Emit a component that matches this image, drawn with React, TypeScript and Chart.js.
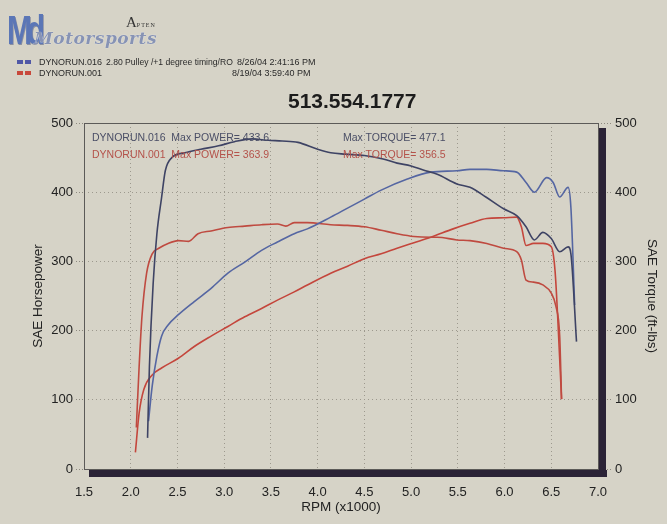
import React, { useEffect, useRef } from "react";
import Chart from "chart.js/auto";

// DYNORUN.016 (blue) — torque and horsepower
const rpmTorque016 = [2.18, 2.2, 2.24, 2.28, 2.33, 2.37, 2.44, 2.58, 2.75, 2.94, 3.11, 3.3, 3.47, 3.62, 3.79, 4.0, 4.14, 4.3, 4.5, 4.7, 4.85, 5.0, 5.13, 5.28, 5.49, 5.63, 5.8, 5.99, 6.13, 6.23, 6.32, 6.41, 6.5, 6.59, 6.68, 6.71, 6.77];
const torque016 = [45, 148, 268, 340, 392, 431, 450, 457, 462, 467, 473, 477, 475, 474, 472, 462, 457, 455, 453, 448, 442, 438, 432, 426, 412, 407, 393, 376, 366, 350, 331, 342, 333, 314, 321, 311, 184];
const rpmPower016 = [2.19, 2.23, 2.28, 2.33, 2.4, 2.51, 2.68, 2.86, 3.04, 3.22, 3.4, 3.57, 3.75, 3.89, 4.14, 4.32, 4.5, 4.68, 4.96, 5.21, 5.49, 5.63, 5.81, 5.99, 6.13, 6.23, 6.32, 6.45, 6.52, 6.59, 6.68, 6.71, 6.75];
const power016 = [69, 120, 163, 192, 208, 223, 242, 261, 283, 299, 316, 328, 340, 347, 364, 377, 390, 403, 419, 429, 431, 433, 433, 431, 429, 414, 400, 421, 414, 393, 407, 378, 237];

// DYNORUN.001 (red) — torque and horsepower
const rpmTorque001 = [2.06, 2.09, 2.12, 2.17, 2.23, 2.3, 2.4, 2.51, 2.62, 2.72, 2.86, 3.04, 3.22, 3.4, 3.57, 3.66, 3.75, 3.89, 4.14, 4.32, 4.5, 4.68, 4.85, 5.03, 5.21, 5.28, 5.49, 5.63, 5.81, 5.99, 6.13, 6.18, 6.23, 6.31, 6.41, 6.5, 6.55, 6.59, 6.61];
const torque001 = [60, 148, 220, 283, 311, 319, 326, 330, 329, 340, 344, 349, 351, 353, 354, 351, 356, 356, 353, 352, 350, 345, 340, 336, 335, 335, 331, 330, 326, 319, 314, 302, 273, 270, 266, 254, 235, 192, 101];
const rpmPower001 = [2.05, 2.09, 2.14, 2.23, 2.33, 2.51, 2.68, 2.86, 3.04, 3.22, 3.4, 3.57, 3.75, 3.89, 4.14, 4.32, 4.5, 4.68, 4.85, 5.03, 5.21, 5.45, 5.63, 5.81, 5.99, 6.13, 6.18, 6.23, 6.31, 6.41, 6.5, 6.54, 6.57, 6.61];
const power001 = [24, 81, 115, 136, 146, 160, 177, 192, 206, 220, 232, 244, 256, 266, 283, 293, 304, 311, 319, 327, 335, 347, 355, 362, 363, 364, 350, 323, 326, 326, 321, 287, 216, 101];

const BG = "#d6d3c7";
const FONT = "'Liberation Sans', Arial, sans-serif";

const pairs = (xs: number[], ys: number[]) => xs.map((x, i) => ({ x, y: ys[i] }));

const framePlugin = {
  id: "frame",
  afterDraw(chart: any) {
    const { ctx, chartArea: a } = chart;
    ctx.save();
    ctx.fillStyle = "#2b2336";
    ctx.fillRect(a.right + 1, a.top + 5, 7, a.bottom - a.top + 3);
    ctx.fillRect(a.left + 5, a.bottom + 1, a.right - a.left + 4, 7);
    ctx.strokeStyle = "#5c5a58";
    ctx.lineWidth = 1;
    ctx.strokeRect(a.left + 0.5, a.top + 0.5, a.right - a.left, a.bottom - a.top);
    ctx.restore();
  },
};

const App: React.FC = () => {
  const canvasRef = useRef<HTMLCanvasElement | null>(null);

  useEffect(() => {
    const canvas = canvasRef.current;
    if (!canvas) return;
    const line = (data: { x: number; y: number }[], color: string, axis: string) => ({
      data,
      yAxisID: axis,
      borderColor: color,
      borderWidth: 1.6,
      pointRadius: 0,
      fill: false,
      cubicInterpolationMode: "monotone" as const,
    });
    const grid = { color: "#9d998e", lineWidth: 1 };
    const dotted = { display: false, dash: [1, 3] };
    const chart = new Chart(canvas, {
      type: "line",
      data: {
        datasets: [
          line(pairs(rpmTorque016, torque016), "#3e4364", "y1"),
          line(pairs(rpmPower016, power016), "#5566a2", "y"),
          line(pairs(rpmTorque001, torque001), "#bf4a40", "y1"),
          line(pairs(rpmPower001, power001), "#c4463c", "y"),
        ],
      },
      options: {
        animation: false,
        responsive: true,
        maintainAspectRatio: false,
        layout: { padding: { top: 123, left: 0, right: 0, bottom: 0 } },
        plugins: { legend: { display: false }, tooltip: { enabled: false }, title: { display: false } },
        scales: {
          x: {
            type: "linear",
            min: 1.5,
            max: 7.0,
            border: dotted,
            grid: { ...grid, drawTicks: false },
            ticks: {
              stepSize: 0.5,
              padding: 16,
              color: "#222",
              font: { family: FONT, size: 13 },
              callback: (v: any) => Number(v).toFixed(1),
            },
            title: {
              display: true,
              text: "RPM (x1000)",
              color: "#222",
              font: { family: FONT, size: 13.5 },
              padding: { top: 0, bottom: 9 },
            },
            afterFit: (s: any) => {
              s.height = 55;
            },
          },
          y: {
            position: "left",
            min: 0,
            max: 500,
            border: dotted,
            grid: { ...grid, tickLength: 8, tickBorderDash: [1, 2], tickColor: "#8d897f" },
            ticks: { stepSize: 100, padding: 3, color: "#222", font: { family: FONT, size: 13 } },
            title: {
              display: true,
              text: "SAE Horsepower",
              color: "#222",
              font: { family: FONT, size: 13.5 },
              padding: { top: 30, bottom: 0 },
            },
            afterFit: (s: any) => {
              s.width = 84;
            },
          },
          y1: {
            position: "right",
            min: 0,
            max: 500,
            border: { display: false },
            grid: { drawOnChartArea: false, tickLength: 14, tickBorderDash: [1, 2], tickColor: "#8d897f" },
            ticks: { stepSize: 100, padding: 3, color: "#222", font: { family: FONT, size: 13 } },
            title: {
              display: true,
              text: "SAE Torque (ft-lbs)",
              color: "#222",
              font: { family: FONT, size: 13.5 },
              padding: { top: 7, bottom: 0 },
            },
            afterFit: (s: any) => {
              s.width = 69;
            },
          },
        },
      },
      plugins: [framePlugin],
    });
    return () => chart.destroy();
  }, []);

  const txt: React.CSSProperties = { position: "absolute", fontFamily: FONT, whiteSpace: "pre", lineHeight: 1 };
  const sq = (left: number, top: number, color: string): React.CSSProperties => ({
    position: "absolute",
    left,
    top,
    width: 6,
    height: 4,
    background: color,
  });

  return (
    <div style={{ position: "fixed", left: 0, top: 0, width: 667, height: 524, background: BG, overflow: "hidden" }}>
      <canvas ref={canvasRef} style={{ position: "absolute", left: 0, top: 0 }} />

      {/* logo */}
      <div style={{ ...txt, left: 7, top: 10, fontSize: 40, fontWeight: 700, color: "#5b76b6", letterSpacing: -7, transform: "scaleX(0.75)", transformOrigin: "left top", textShadow: "1px 1px 0 #8a8fa0" }}>
        Md
      </div>
      <div style={{ ...txt, left: 34, top: 30, fontSize: 17, fontStyle: "italic", fontWeight: 700, fontFamily: "'DejaVu Serif', serif", color: "#8793b4", letterSpacing: 0.5, textShadow: "0 0 1px #fff" }}>
        Motorsports
      </div>
      <div style={{ ...txt, left: 126, top: 14, fontFamily: "'Liberation Serif', serif", color: "#333" }}>
        <span style={{ fontSize: 15 }}>A</span>
        <span style={{ fontSize: 6, letterSpacing: 1 }}>PTEN</span>
      </div>

      {/* run legend */}
      <div style={sq(17, 60, "#5058a6")} />
      <div style={sq(25, 60, "#5058a6")} />
      <div style={sq(17, 71, "#c8483b")} />
      <div style={sq(25, 71, "#c8483b")} />
      <div style={{ ...txt, left: 39, top: 58, fontSize: 9, color: "#2a2a2a" }}>DYNORUN.016</div>
      <div style={{ ...txt, left: 106, top: 58, fontSize: 8.6, color: "#2a2a2a" }}>2.80 Pulley /+1 degree timing/RO</div>
      <div style={{ ...txt, left: 237, top: 58, fontSize: 9, color: "#2a2a2a" }}>8/26/04 2:41:16 PM</div>
      <div style={{ ...txt, left: 39, top: 69, fontSize: 9, color: "#2a2a2a" }}>DYNORUN.001</div>
      <div style={{ ...txt, left: 232, top: 69, fontSize: 9, color: "#2a2a2a" }}>8/19/04 3:59:40 PM</div>

      <div style={{ ...txt, left: 288, top: 90, fontSize: 21, fontWeight: 700, color: "#1c1c1c" }}>513.554.1777</div>

      {/* in-plot annotations */}
      <div style={{ ...txt, left: 92, top: 132, fontSize: 10.5, color: "#4a4e66" }}>{"DYNORUN.016  Max POWER= 433.6"}</div>
      <div style={{ ...txt, left: 343, top: 132, fontSize: 10.5, color: "#4a4e66" }}>{"Max TORQUE= 477.1"}</div>
      <div style={{ ...txt, left: 92, top: 149, fontSize: 10.5, color: "#b4524a" }}>{"DYNORUN.001  Max POWER= 363.9"}</div>
      <div style={{ ...txt, left: 343, top: 149, fontSize: 10.5, color: "#b4524a" }}>{"Max TORQUE= 356.5"}</div>
    </div>
  );
};

export default App;
